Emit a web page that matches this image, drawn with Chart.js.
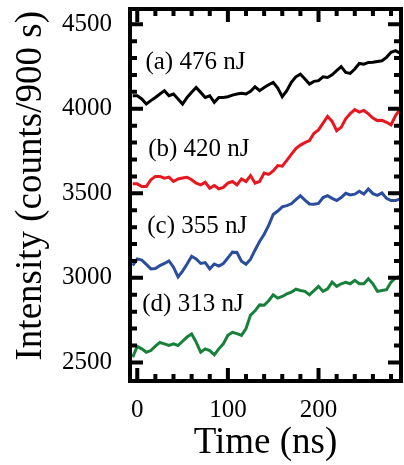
<!DOCTYPE html>
<html><head><meta charset="utf-8">
<script src="https://cdn.jsdelivr.net/npm/chart.js@4.4.1/dist/chart.umd.min.js"></script>
<style>html,body{margin:0;padding:0;background:#fff;}#wrap{width:404px;height:465px;}</style>
</head><body><div id="wrap"><canvas id="c" width="404" height="465"></canvas></div>
<script>
const times = [-5,0,5,10,15,20,25,30,35,40,45,50,55,60,65,70,75,80,85,90,95,100,105,110,115,120,125,130,135,140,145,150,155,160,165,170,175,180,185,190,195,200,205,210,215,220,225,230,235,240,245,250,255,260,265,270,275,280,285,290];
const seriesLabels = ['(a) 476 nJ', '(b) 420 nJ', '(c) 355 nJ', '(d) 313 nJ'];
const seriesA = [4077,4077,4058,4028,4048,4067,4087,4107,4077,4087,4058,4028,4067,4097,4126,4097,4067,4077,4038,4067,4067,4071,4081,4087,4091,4087,4103,4130,4107,4126,4142,4156,4122,4071,4107,4156,4189,4205,4176,4146,4162,4166,4189,4185,4201,4225,4249,4215,4209,4235,4268,4264,4274,4275,4280,4284,4304,4334,4344,4328];
const seriesB = [3556,3556,3540,3540,3580,3600,3600,3590,3596,3570,3585,3590,3595,3580,3560,3550,3565,3530,3546,3527,3535,3560,3570,3550,3585,3570,3605,3560,3570,3620,3612,3632,3664,3660,3695,3730,3765,3785,3800,3812,3855,3875,3915,3955,3925,3870,3890,3940,3972,3995,3980,3990,3970,3945,3930,3932,3920,3905,3960,3998];
const seriesC = [3073,3112,3105,3080,3053,3055,3073,3085,3100,3063,3006,3040,3082,3128,3112,3085,3090,3053,3082,3070,3085,3118,3152,3150,3098,3080,3110,3165,3215,3258,3310,3375,3395,3420,3427,3438,3462,3486,3460,3437,3435,3440,3475,3486,3470,3457,3475,3500,3490,3495,3512,3496,3526,3498,3488,3502,3470,3457,3457,3467];
const seriesD = [2531,2595,2580,2560,2570,2596,2618,2610,2600,2610,2600,2625,2650,2668,2620,2560,2580,2570,2545,2580,2610,2660,2678,2670,2660,2700,2780,2805,2840,2838,2865,2900,2880,2890,2905,2915,2933,2925,2920,2900,2925,2950,2920,2935,2975,2950,2965,2973,2965,2985,2965,2965,2995,2965,2920,2925,2930,2975,3000,3008];
const xTickValues = [0,100,200];
const yTickValues = [2500,3000,3500,4000,4500];
const xMinorTicks = [0,20,40,60,80,100,120,140,160,180,200,220,240,260,280];
const yMinorTicks = [2400,2500,2600,2700,2800,2900,3000,3100,3200,3300,3400,3500,3600,3700,3800,3900,4000,4100,4200,4300,4400,4500];
const labelTimes = [9, 12, 11, 5.5];
const labelValues = [4272, 3758, 3303, 2843];

const colors = ['#000000', '#e8161e', '#2a4d9e', '#17803a'];
const serif = "'Liberation Serif', 'Times New Roman', serif";

const series = [seriesA, seriesB, seriesC, seriesD];
const datasets = series.map((s, i) => ({
  label: seriesLabels[i],
  data: times.map((t, k) => ({x: t, y: s[k]})),
  borderColor: colors[i],
  borderWidth: 3,
  pointRadius: 0,
  tension: 0,
  fill: false
}));

const framePlugin = {
  id: 'frame',
  afterDatasetsDraw(chart) {
    const {ctx, chartArea: a, scales: {x, y}} = chart;
    ctx.save();
    ctx.strokeStyle = '#000';
    ctx.lineWidth = 4;
    ctx.lineCap = 'butt';
    const majX = 13, minX = 7;
    xMinorTicks.forEach(v => {
      const px = x.getPixelForValue(v);
      const len = xTickValues.includes(v) ? majX : minX;
      ctx.beginPath();
      ctx.moveTo(px, a.bottom); ctx.lineTo(px, a.bottom - len);
      ctx.moveTo(px, a.top); ctx.lineTo(px, a.top + len);
      ctx.stroke();
    });
    yMinorTicks.forEach(v => {
      const py = y.getPixelForValue(v);
      if (py < a.top + 2 || py > a.bottom - 2) return;
      const len = yTickValues.includes(v) ? majX : minX;
      ctx.beginPath();
      ctx.moveTo(a.left, py); ctx.lineTo(a.left + len, py);
      ctx.moveTo(a.right, py); ctx.lineTo(a.right - len, py);
      ctx.stroke();
    });
    ctx.strokeRect(a.left, a.top, a.right - a.left, a.bottom - a.top);
    ctx.fillStyle = '#000';
    ctx.font = "25px " + serif;
    ctx.textAlign = 'left';
    ctx.textBaseline = 'middle';
    seriesLabels.forEach((lab, i) => {
      ctx.fillText(lab, x.getPixelForValue(labelTimes[i]), y.getPixelForValue(labelValues[i]));
    });
    ctx.restore();
  }
};

new Chart(document.getElementById('c'), {
  type: 'line',
  data: {datasets},
  options: {
    responsive: false,
    animation: false,
    events: [],
    layout: {padding: {left: 0, right: 3, top: 9, bottom: 0}},
    plugins: {legend: {display: false}, tooltip: {enabled: false}},
    scales: {
      x: {
        type: 'linear', min: -8, max: 291,
        afterBuildTicks: s => { s.ticks = xTickValues.map(v => ({value: v})); },
        afterFit: s => { s.height = 84; s.paddingLeft = 0; s.paddingRight = 0; },
        grid: {display: false, drawTicks: false},
        border: {display: false},
        ticks: {color: '#000', font: {family: serif, size: 25}, padding: 14, maxRotation: 0, autoSkip: false, callback: v => String(v)},
        title: {display: true, text: 'Time (ns)', color: '#000', font: {family: serif, size: 37}, padding: {top: 0, bottom: 0}}
      },
      y: {
        type: 'linear', min: 2390, max: 4590,
        afterBuildTicks: s => { s.ticks = yTickValues.map(v => ({value: v})); },
        afterFit: s => { s.width = 130; s.paddingTop = 0; s.paddingBottom = 0; },
        grid: {display: false, drawTicks: false},
        border: {display: false},
        ticks: {color: '#000', font: {family: serif, size: 25}, padding: 18, autoSkip: false, callback: v => String(v)},
        title: {display: true, text: '  Intensity (counts/900 s)', color: '#000', font: {family: serif, size: 37}, padding: {top: 9, bottom: 0}}
      }
    }
  },
  plugins: [framePlugin]
});
</script></body></html>
